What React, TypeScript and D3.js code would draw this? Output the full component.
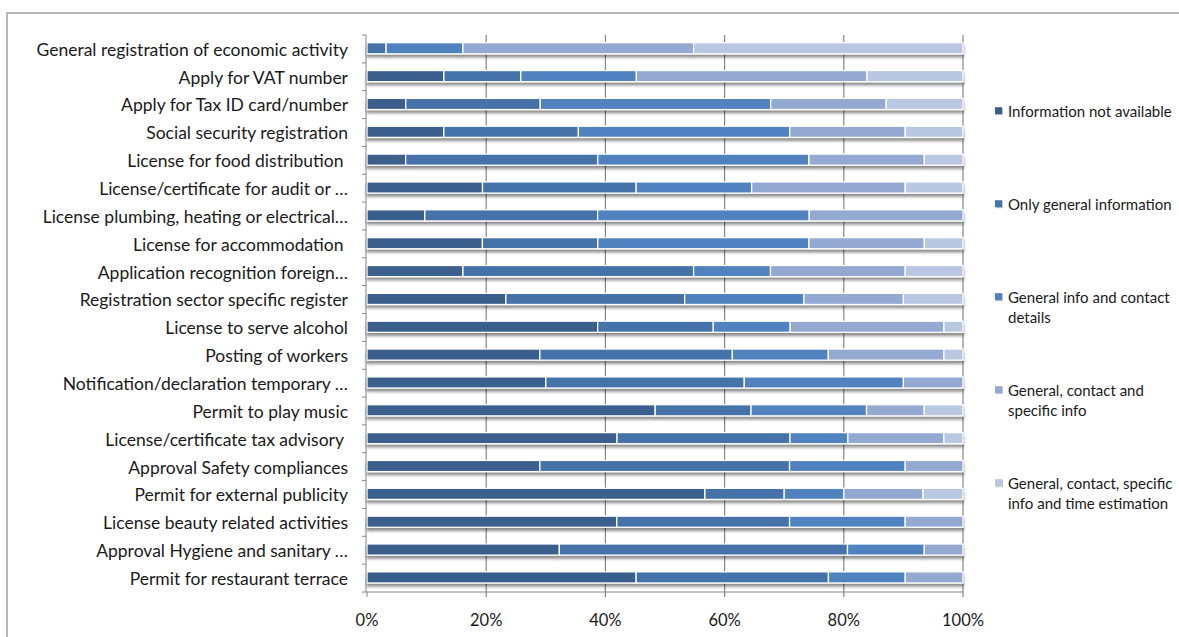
import React from "react";
import * as d3 from "d3";

// Procedures, listed top to bottom
const categories: string[] = [
  "General registration of economic activity",
  "Apply for VAT number",
  "Apply for Tax ID card/number",
  "Social security registration",
  "License for food distribution\u00a0",
  "License/certificate for audit or …",
  "License plumbing, heating or electrical…",
  "License for accommodation\u00a0",
  "Application recognition foreign…",
  "Registration sector specific register",
  "License to serve alcohol",
  "Posting of workers",
  "Notification/declaration temporary …",
  "Permit to play music",
  "License/certificate tax advisory\u00a0",
  "Approval Safety compliances",
  "Permit for external publicity",
  "License beauty related activities",
  "Approval Hygiene and sanitary …",
  "Permit for restaurant terrace",
];

// Share of countries (%) per level of online information
const notAvailable: number[] = [0, 12.9, 6.5, 12.9, 6.5, 19.4, 9.7, 19.4, 16.1, 23.3, 38.7, 29.0, 30.0, 48.4, 41.9, 29.0, 56.7, 41.9, 32.3, 45.2];
const onlyGeneral: number[] = [3.2, 12.9, 22.6, 22.6, 32.3, 25.8, 29.0, 19.4, 38.7, 30.0, 19.4, 32.3, 33.3, 16.1, 29.0, 41.9, 13.3, 29.0, 48.4, 32.3];
const generalContact: number[] = [12.9, 19.4, 38.7, 35.5, 35.5, 19.4, 35.5, 35.5, 12.9, 20.0, 12.9, 16.1, 26.7, 19.4, 9.7, 19.4, 10.0, 19.4, 12.9, 12.9];
const generalContactSpecific: number[] = [38.7, 38.7, 19.4, 19.4, 19.4, 25.8, 25.8, 19.4, 22.6, 16.7, 25.8, 19.4, 10.0, 9.7, 16.1, 9.7, 13.3, 9.7, 6.5, 9.7];
const withTimeEstimation: number[] = [45.2, 16.1, 12.9, 9.7, 6.5, 9.7, 0, 6.5, 9.7, 10.0, 3.2, 3.2, 0, 6.5, 3.2, 0, 6.7, 0, 0, 0];

const seriesNames: string[] = [
  "Information not available",
  "Only general information",
  "General info and contact details",
  "General, contact and specific info",
  "General, contact, specific info and time estimation",
];
const seriesColors: string[] = ["#3b5f8d", "#4572a8", "#4f82be", "#94a9d1", "#b9c7e2"];
const legendLines: string[][] = [
  ["Information not available"],
  ["Only general information"],
  ["General info and contact", "details"],
  ["General, contact and", "specific info"],
  ["General, contact, specific", "info and time estimation"],
];
const tickValues: number[] = [0, 0.2, 0.4, 0.6, 0.8, 1];

const W = 1179;
const H = 637;
const FONT = "Lato, 'Open Sans', 'DejaVu Sans', sans-serif";

export default function App() {
  const seriesArrays = [notAvailable, onlyGeneral, generalContact, generalContactSpecific, withTimeEstimation];
  const rows = categories.map((c, i) => {
    const r: Record<string, any> = { category: c };
    seriesNames.forEach((s, k) => (r[s] = seriesArrays[k][i]));
    return r;
  });
  const stacked = d3.stack<any>().keys(seriesNames).offset(d3.stackOffsetExpand)(rows);

  const x = d3.scaleLinear().domain([0, 1]).range([367, 963]);
  const y = d3
    .scaleBand<string>()
    .domain(categories)
    .range([35, 592])
    .paddingInner(0.6)
    .paddingOuter(0.3)
    .align(0.46);
  const step = y.step();
  const bandTop = (i: number) => 35 + i * step;
  const axisBottom = 592;
  const gridColor = "#858585";

  return (
    <svg
      width={W}
      height={H}
      style={{ position: "absolute", left: 0, top: 0, background: "#fff" }}
      fontFamily={FONT}
    >
      <defs>
        <filter id="barShadow" x="-5%" y="-50%" width="110%" height="220%">
          <feDropShadow dx="0" dy="3" stdDeviation="1.6" floodColor="#000" floodOpacity="0.45" />
        </filter>
        <filter id="keyShadow" x="-50%" y="-50%" width="200%" height="200%">
          <feDropShadow dx="0.8" dy="0.8" stdDeviation="0.4" floodColor="#000" floodOpacity="0.3" />
        </filter>
      </defs>

      {/* chart frame */}
      <rect x={7} y={13} width={W + 20} height={H + 20} fill="none" stroke="#a6a6a6" strokeWidth={1.6} />

      {/* vertical gridlines, continuing below the axis as ticks */}
      {tickValues.slice(1).map((t) => (
        <line key={t} x1={x(t)} x2={x(t)} y1={35} y2={axisBottom + 5} stroke={gridColor} strokeWidth={1.2} />
      ))}

      {/* bars */}
      {categories.map((c, i) => (
        <g key={c} filter="url(#barShadow)">
          {stacked.map((s, k) => {
            const d = s[i];
            const w = x(d[1]) - x(d[0]);
            if (w <= 0.01) return null;
            return (
              <rect
                key={k}
                x={x(d[0])}
                y={y(c)}
                width={w}
                height={y.bandwidth()}
                fill={seriesColors[k]}
                stroke="#fff"
                strokeWidth={1.3}
              />
            );
          })}
        </g>
      ))}

      {/* category axis */}
      <line x1={366} x2={366} y1={35} y2={axisBottom} stroke={gridColor} strokeWidth={1} />
      {d3.range(categories.length + 1).map((i) => (
        <line key={i} x1={362} x2={366} y1={bandTop(i)} y2={bandTop(i)} stroke={gridColor} strokeWidth={1} />
      ))}
      {/* value axis */}
      <line x1={366} x2={x(1)} y1={axisBottom} y2={axisBottom} stroke={gridColor} strokeWidth={1} />
      <line x1={x(0)} x2={x(0)} y1={axisBottom} y2={axisBottom + 5} stroke={gridColor} strokeWidth={1} />

      {categories.map((c) => (
        <text
          key={c}
          x={348}
          y={(y(c) as number) + y.bandwidth() / 2 + 1}
          textAnchor="end"
          dominantBaseline="central"
          fontSize={17.5}
          fill="#1a1a1a"
        >
          {c}
        </text>
      ))}

      {tickValues.map((t) => (
        <text key={t} x={x(t)} y={620} textAnchor="middle" dominantBaseline="central" fontSize={16.5} fill="#1a1a1a">
          {d3.format(".0%")(t)}
        </text>
      ))}

      {/* legend */}
      {legendLines.map((lines, k) => {
        const cy = 110.7 + k * 93;
        return (
          <g key={k}>
            <rect x={995} y={cy - 3.5} width={7} height={7} fill={seriesColors[k]} filter="url(#keyShadow)" />
            {lines.map((ln, j) => (
              <text key={j} x={1008} y={cy + j * 20} dominantBaseline="central" fontSize={15} fill="#1a1a1a">
                {ln}
              </text>
            ))}
          </g>
        );
      })}
    </svg>
  );
}
